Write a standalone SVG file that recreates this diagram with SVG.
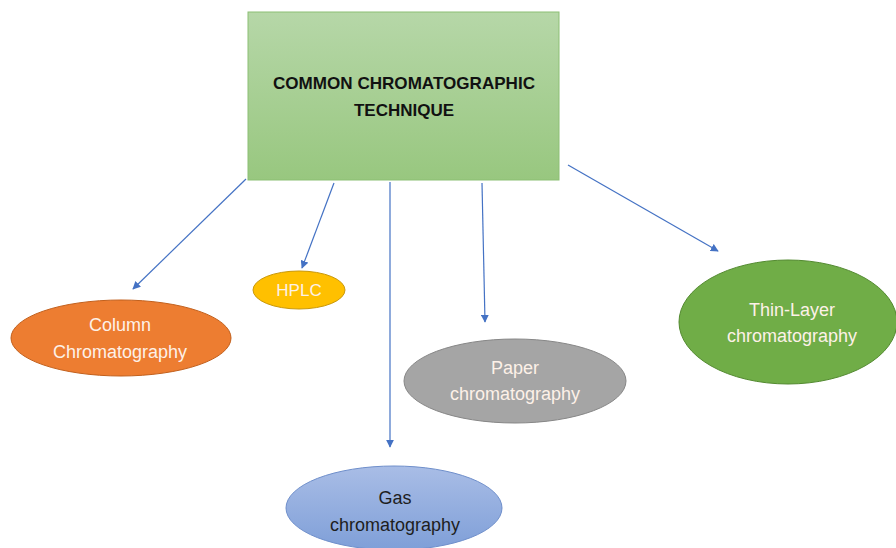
<svg xmlns="http://www.w3.org/2000/svg" width="896" height="548" viewBox="0 0 896 548">
<defs>
<linearGradient id="gTitle" x1="0" y1="0" x2="0" y2="1">
<stop offset="0" stop-color="#b6d7a8"/>
<stop offset="1" stop-color="#98c77f"/>
</linearGradient>
<linearGradient id="gGas" x1="0" y1="0" x2="0" y2="1">
<stop offset="0" stop-color="#a9bde6"/>
<stop offset="1" stop-color="#7f9fd8"/>
</linearGradient>
<marker id="arr" viewBox="0 0 10 10" refX="9" refY="5" markerWidth="8" markerHeight="8" orient="auto" markerUnits="userSpaceOnUse">
<path d="M0,0 L10,5 L0,10 z" fill="#4472c4"/>
</marker>
<style>
.t{font-family:"Liberation Sans","Noto Sans",sans-serif;text-anchor:middle;}
.title{font-weight:bold;font-size:17px;fill:#111;}
.lbl{font-size:18px;fill:#fdf1e8;}
.dark{fill:#1e1e1e;}
.conn line{stroke:#4472c4;stroke-width:1.2;marker-end:url(#arr);}
</style>
</defs>
<rect width="896" height="548" fill="#ffffff"/>
<g id="title">
<rect x="248" y="12" width="311" height="168" fill="url(#gTitle)" stroke="#8cbf74" stroke-width="1"/>
<text class="t title" x="404" y="89" textLength="262" lengthAdjust="spacingAndGlyphs">COMMON CHROMATOGRAPHIC</text>
<text class="t title" x="404" y="116">TECHNIQUE</text>
</g>
<g id="column">
<ellipse cx="121" cy="338" rx="110" ry="38" fill="#ed7d31" stroke="#c25f1b" stroke-width="1"/>
<text class="t lbl" x="120" y="331">Column</text>
<text class="t lbl" x="120" y="358">Chromatography</text>
</g>
<g id="hplc">
<ellipse cx="299" cy="290" rx="46" ry="19" fill="#ffc000" stroke="#c9980a" stroke-width="1"/>
<text class="t lbl" x="299" y="296" style="font-size:17px">HPLC</text>
</g>
<g id="gas">
<ellipse cx="394" cy="508" rx="108" ry="42" fill="url(#gGas)" stroke="#6f8fcb" stroke-width="1"/>
<text class="t lbl dark" x="395" y="504">Gas</text>
<text class="t lbl dark" x="395" y="531">chromatography</text>
</g>
<g id="paper">
<ellipse cx="515" cy="381" rx="111" ry="42" fill="#a5a5a5" stroke="#878787" stroke-width="1"/>
<text class="t lbl" x="515" y="374">Paper</text>
<text class="t lbl" x="515" y="400">chromatography</text>
</g>
<g id="thinlayer">
<ellipse cx="788" cy="322" rx="109" ry="62" fill="#70ad47" stroke="#538a30" stroke-width="1"/>
<text class="t lbl" x="792" y="316">Thin-Layer</text>
<text class="t lbl" x="792" y="342">chromatography</text>
</g>
<g class="conn" id="connectors">
<line x1="246" y1="179" x2="133" y2="289"/>
<line x1="334" y1="183" x2="302" y2="268"/>
<line x1="390" y1="182" x2="390" y2="447"/>
<line x1="482" y1="183" x2="485" y2="322"/>
<line x1="568" y1="165" x2="718" y2="251"/>
</g>
</svg>
